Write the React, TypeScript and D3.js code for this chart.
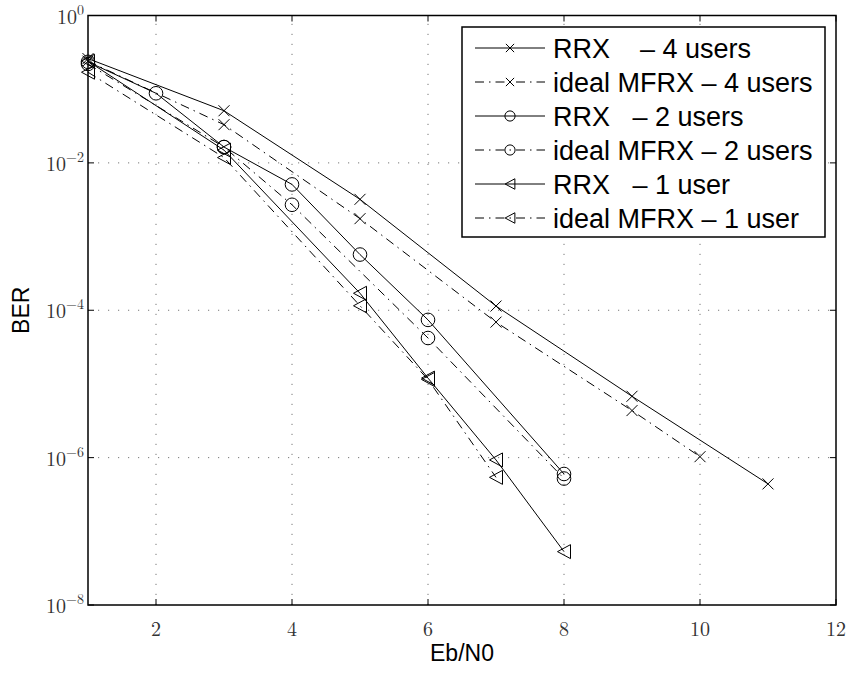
import React from "react";
import * as d3 from "d3";

// Eb/N0 points and BER values for each curve
const rrx4X = [1, 3, 5, 7, 9, 11];
const rrx4Y = [0.26, 0.051, 3.2e-3, 1.14e-4, 6.8e-6, 4.4e-7];
const ideal4X = [1, 3, 5, 7, 9, 10];
const ideal4Y = [0.24, 0.033, 1.75e-3, 6.9e-5, 4.35e-6, 1.03e-6];
const rrx2X = [1, 2, 3, 4, 5, 6, 8];
const rrx2Y = [0.235, 0.088, 0.0164, 5.1e-3, 5.7e-4, 7.4e-5, 6.0e-7];
const ideal2X = [1, 3, 4, 6, 8];
const ideal2Y = [0.22, 0.0164, 2.7e-3, 4.2e-5, 5.2e-7];
const rrx1X = [1, 3, 5, 6, 7, 8];
const rrx1Y = [0.24, 0.0149, 1.7e-4, 1.2e-5, 9.3e-7, 5.3e-8];
const ideal1X = [1, 3, 5, 6, 7];
const ideal1Y = [0.17, 0.0118, 1.15e-4, 1.15e-5, 5.4e-7];

const seriesNames = [
  "RRX    \u2013 4 users",
  "ideal MFRX \u2013 4 users",
  "RRX   \u2013 2 users",
  "ideal MFRX \u2013 2 users",
  "RRX   \u2013 1 user",
  "ideal MFRX \u2013 1 user",
];

const xTicks = [2, 4, 6, 8, 10, 12];
const yTickExps = [0, -2, -4, -6, -8];

const series = [
  { name: seriesNames[0], xs: rrx4X, ys: rrx4Y, marker: "x", dashed: false },
  { name: seriesNames[1], xs: ideal4X, ys: ideal4Y, marker: "x", dashed: true },
  { name: seriesNames[2], xs: rrx2X, ys: rrx2Y, marker: "o", dashed: false },
  { name: seriesNames[3], xs: ideal2X, ys: ideal2Y, marker: "o", dashed: true },
  { name: seriesNames[4], xs: rrx1X, ys: rrx1Y, marker: "<", dashed: false },
  { name: seriesNames[5], xs: ideal1X, ys: ideal1Y, marker: "<", dashed: true },
];

const DASHDOT = "9,5,1.5,5";

function Marker({ type, x, y, size = 1 }: { type: string; x: number; y: number; size?: number }) {
  if (type === "x") {
    const s = 5.5 * size;
    return (
      <path
        d={`M${x - s},${y - s}L${x + s},${y + s}M${x - s},${y + s}L${x + s},${y - s}`}
        stroke="#000"
        strokeWidth={1}
        fill="none"
      />
    );
  }
  if (type === "o") {
    return <circle cx={x} cy={y} r={6.8 * size} stroke="#000" strokeWidth={1} fill="none" />;
  }
  const w = 6.5 * size;
  const h = 7 * size;
  return (
    <path
      d={`M${x - w},${y}L${x + w},${y - h}L${x + w},${y + h}Z`}
      stroke="#000"
      strokeWidth={1}
      fill="none"
    />
  );
}

export default function App() {
  const width = 847;
  const height = 673;
  const left = 88;
  const right = 836;
  const top = 15.5;
  const bottom = 605;

  const x = d3.scaleLinear().domain([1, 12]).range([left, right]);
  const y = d3.scaleLog().domain([1e-8, 1]).range([bottom, top]);

  const line = d3
    .line<[number, number]>()
    .x((d) => x(d[0]))
    .y((d) => y(d[1]));

  const serif = "'Latin Modern Roman', 'CMU Serif', 'DejaVu Serif', serif";
  const sans = "'Liberation Sans', Arial, sans-serif";

  // legend geometry
  const lgX = 462;
  const lgY = 27;
  const lgW = 363;
  const lgH = 210;
  const rowH = 34;

  return (
    <svg
      width={width}
      height={height}
      style={{ position: "absolute", left: 0, top: 0, background: "#fff" }}
    >
      <rect x={0} y={0} width={width} height={height} fill="#fff" />

      {/* grid */}
      <g stroke="#777" strokeWidth={1} strokeDasharray="1.2,8.8">
        {xTicks
          .filter((t) => t < 12)
          .map((t) => (
            <line key={"gx" + t} x1={x(t)} x2={x(t)} y1={bottom} y2={top} />
          ))}
        {yTickExps
          .filter((e) => e !== 0 && e !== -8)
          .map((e) => (
            <line key={"gy" + e} x1={left} x2={right} y1={y(Math.pow(10, e))} y2={y(Math.pow(10, e))} />
          ))}
      </g>

      {/* tick marks */}
      <g stroke="#000" strokeWidth={1}>
        {xTicks.map((t) => (
          <g key={"tx" + t}>
            <line x1={x(t)} x2={x(t)} y1={bottom} y2={bottom - 6} />
            <line x1={x(t)} x2={x(t)} y1={top} y2={top + 6} />
          </g>
        ))}
        {yTickExps.map((e) => (
          <g key={"ty" + e}>
            <line x1={left} x2={left + 6} y1={y(Math.pow(10, e))} y2={y(Math.pow(10, e))} />
            <line x1={right} x2={right - 6} y1={y(Math.pow(10, e))} y2={y(Math.pow(10, e))} />
          </g>
        ))}
      </g>

      {/* series lines */}
      {series.map((s) => (
        <path
          key={"l" + s.name}
          d={line(s.xs.map((v, i) => [v, s.ys[i]] as [number, number])) || ""}
          fill="none"
          stroke="#000"
          strokeWidth={1}
          strokeDasharray={s.dashed ? DASHDOT : undefined}
        />
      ))}

      {/* markers */}
      {series.map((s) =>
        s.xs.map((v, i) => (
          <Marker key={"m" + s.name + i} type={s.marker} x={x(v)} y={y(s.ys[i])} />
        ))
      )}

      {/* axes box */}
      <rect x={left} y={top} width={right - left} height={bottom - top} fill="none" stroke="#000" strokeWidth={1.5} />

      {/* x tick labels */}
      <g fontFamily={serif} fontSize={20} fill="#333" textAnchor="middle">
        {xTicks.map((t) => (
          <text key={"lx" + t} x={x(t)} y={bottom + 31}>
            {t}
          </text>
        ))}
      </g>

      {/* y tick labels */}
      <g fontFamily={serif} fill="#333">
        {yTickExps.map((e) => {
          const yy = y(Math.pow(10, e));
          return (
            <text key={"ly" + e} x={left - 4} y={yy + 8} textAnchor="end" fontSize={20}>
              10
              <tspan dy={-9} fontSize={14}>
                {e === 0 ? "0" : "\u2212" + Math.abs(e)}
              </tspan>
            </text>
          );
        })}
      </g>

      {/* axis titles */}
      <text x={(left + right) / 2} y={661} textAnchor="middle" fontFamily={sans} fontSize={23}>
        Eb/N0
      </text>
      <text
        transform={`translate(29, ${(top + bottom) / 2}) rotate(-90)`}
        textAnchor="middle"
        fontFamily={sans}
        fontSize={23}
      >
        BER
      </text>

      {/* legend */}
      <rect x={lgX} y={lgY} width={lgW} height={lgH} fill="#fff" stroke="#000" strokeWidth={1.5} />
      {series.map((s, i) => {
        const cy = lgY + 21 + i * rowH;
        return (
          <g key={"lg" + s.name}>
            <line
              x1={lgX + 13}
              x2={lgX + 83}
              y1={cy}
              y2={cy}
              stroke="#000"
              strokeWidth={1}
              strokeDasharray={s.dashed ? DASHDOT : undefined}
            />
            <Marker type={s.marker} x={lgX + 48} y={cy} size={0.75} />
            <text
              x={lgX + 91}
              y={cy + 9.5}
              fontFamily={sans}
              fontSize={27}
              style={{ whiteSpace: "pre" }}
            >
              {s.name}
            </text>
          </g>
        );
      })}
    </svg>
  );
}
